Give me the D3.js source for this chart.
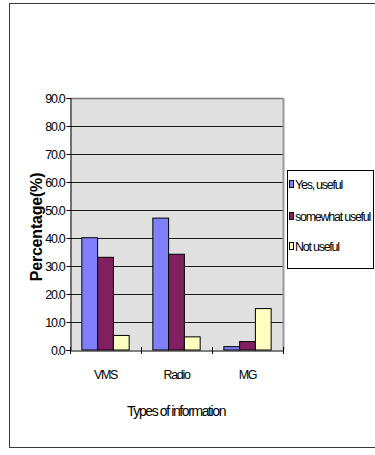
<!DOCTYPE html>
<html>
<head>
<meta charset="utf-8">
<script src="https://cdn.jsdelivr.net/npm/d3@7"></script>
<style>
  html, body { margin: 0; padding: 0; background: #ffffff; }
  svg { display: block; font-family: "Liberation Sans", Arial, sans-serif; }
</style>
</head>
<body>
<svg id="chart" width="375" height="455"></svg>
<script>
// Survey results: usefulness of each type of information (percent)
const categories = ["VMS", "Radio", "MG"];
const seriesNames = ["Yes, useful", "somewhat useful", "Not useful"];
const yesUseful = [40.1, 47.1, 1.2];
const somewhatUseful = [33.1, 34.2, 3.0];
const notUseful = [5.2, 4.7, 14.8];
const yTicks = [0, 10, 20, 30, 40, 50, 60, 70, 80, 90];
const seriesColors = ["#8080ff", "#802060", "#ffffc0"];

const series = [yesUseful, somewhatUseful, notUseful];

const svg = d3.select("#chart");

// Chart area frame
svg.append("rect")
  .attr("x", 9.5).attr("y", 3.5)
  .attr("width", 400).attr("height", 444)
  .attr("fill", "#ffffff")
  .attr("stroke", "#3a3a3a").attr("stroke-width", 1);

const plot = { left: 70, right: 283, top: 98, bottom: 350 };

const x = d3.scaleBand()
  .domain(categories)
  .range([plot.left, plot.right])
  .paddingInner(0).paddingOuter(0);

const xInner = d3.scaleBand()
  .domain(d3.range(series.length))
  .range([0, x.bandwidth()])
  .paddingInner(0).paddingOuter(0.75);

const y = d3.scaleLinear()
  .domain([0, 90])
  .range([plot.bottom, plot.top]);

// Plot area background
svg.append("rect")
  .attr("x", plot.left).attr("y", plot.top)
  .attr("width", plot.right - plot.left)
  .attr("height", plot.bottom - plot.top)
  .attr("fill", "#e0e0e0");

// Horizontal gridlines
svg.append("g")
  .selectAll("line")
  .data(yTicks.filter(d => d > 0))
  .join("line")
  .attr("x1", plot.left).attr("x2", plot.right)
  .attr("y1", d => Math.round(y(d)) + 0.5)
  .attr("y2", d => Math.round(y(d)) + 0.5)
  .attr("stroke", d => d === 90 ? "#777" : "#1a1a1a")
  .attr("stroke-width", d => d === 90 ? 1.5 : 1);

// Right edge of the plot area
svg.append("line")
  .attr("x1", plot.right + 0.5).attr("x2", plot.right + 0.5)
  .attr("y1", plot.top).attr("y2", plot.bottom)
  .attr("stroke", "#999").attr("stroke-width", 2);

// Bars
const groups = svg.append("g")
  .selectAll("g")
  .data(series)
  .join("g")
  .attr("fill", (d, i) => seriesColors[i]);

groups.selectAll("rect")
  .data((vals, si) => vals.map((v, ci) => ({ v, ci, si })))
  .join("rect")
  .attr("x", d => x(categories[d.ci]) + xInner(d.si))
  .attr("y", d => y(d.v))
  .attr("width", xInner.bandwidth())
  .attr("height", d => y(0) - y(d.v))
  .attr("stroke", "#000").attr("stroke-width", 1);

// Y axis
const yAxis = svg.append("g")
  .attr("transform", `translate(${plot.left + 0.5},0)`)
  .call(d3.axisLeft(y).tickValues(yTicks).tickFormat(d3.format(".1f")).tickSize(4).tickPadding(2));
yAxis.select(".domain").attr("stroke", "#000");
yAxis.selectAll(".tick line").attr("stroke", "#000");
yAxis.selectAll(".tick text")
  .attr("font-size", 12.5)
  .attr("letter-spacing", "-1.3px")
  .attr("fill", "#000")
  .attr("font-family", "'Liberation Sans', Arial, sans-serif");

// X axis
const xAxis = svg.append("g")
  .attr("transform", `translate(0,${plot.bottom + 0.5})`)
  .call(d3.axisBottom(x).tickSize(0).tickPadding(20));
xAxis.select(".domain").attr("stroke", "#000");
xAxis.selectAll(".tick text")
  .attr("font-size", 12.5)
  .attr("letter-spacing", "-1.3px")
  .attr("fill", "#000")
  .attr("font-family", "'Liberation Sans', Arial, sans-serif");

// Category boundary tick marks
svg.append("g")
  .selectAll("line")
  .data(categories.map(c => x(c)).concat([plot.right]))
  .join("line")
  .attr("x1", d => Math.round(d) + 0.5).attr("x2", d => Math.round(d) + 0.5)
  .attr("y1", plot.bottom - 3).attr("y2", plot.bottom + 4)
  .attr("stroke", "#000");

// Axis titles
svg.append("text")
  .attr("transform", `translate(42,${(plot.top + plot.bottom) / 2 + 3}) rotate(-90)`)
  .attr("text-anchor", "middle")
  .attr("font-size", 16)
  .attr("font-weight", "bold")
  .attr("letter-spacing", "-0.2px")
  .text("Percentage(%)");

svg.append("text")
  .attr("x", 176).attr("y", 416)
  .attr("text-anchor", "middle")
  .attr("font-size", 14)
  .attr("letter-spacing", "-1.4px")
  .text("Types of information");

// Legend
const legend = svg.append("g");
legend.append("rect")
  .attr("x", 287.5).attr("y", 170.5)
  .attr("width", 86).attr("height", 98)
  .attr("fill", "#ffffff")
  .attr("stroke", "#000");

const legendY = [184, 216, 246];
seriesNames.forEach((name, i) => {
  legend.append("rect")
    .attr("x", 289.5).attr("y", legendY[i] - 3.5)
    .attr("width", 4).attr("height", 7)
    .attr("fill", seriesColors[i])
    .attr("stroke", "#000");
  legend.append("text")
    .attr("x", 295).attr("y", legendY[i] + 4.5)
    .attr("font-size", 12.5)
    .attr("letter-spacing", "-1.25px")
    .text(name);
});
</script>
</body>
</html>
